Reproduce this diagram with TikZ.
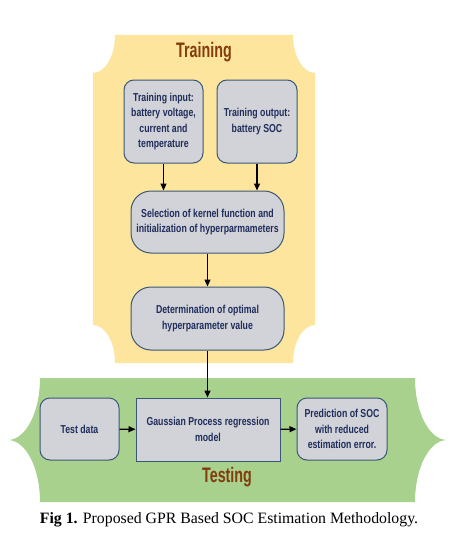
\documentclass[tikz,border=0pt]{standalone}
\usepackage{fontspec}
\setmainfont{Liberation Serif}
\newfontfamily\boxfont[FakeStretch=0.76]{Liberation Sans}
\newfontfamily\titlefont[FakeStretch=0.68]{Liberation Sans}
\usetikzlibrary{arrows.meta, positioning}
\definecolor{trainyellow}{HTML}{FDE59D}
\definecolor{testgreen}{HTML}{A9D18E}
\definecolor{boxgray}{HTML}{D2D3D8}
\definecolor{boxline}{HTML}{3A5774}
\definecolor{boxtext}{HTML}{1F2D5C}
\definecolor{titlebrown}{HTML}{843C0C}
\tikzset{
  stepnode/.style={draw=boxline, line width=1pt, fill=boxgray, text=boxtext,
    font={\boxfont\bfseries\fontsize{11.5}{15.5}\selectfont}, align=center, inner sep=2pt},
  roundnode/.style={stepnode, rounded corners=10pt},
  pillnode/.style={stepnode, rounded corners=20pt},
  phasetitle/.style={text=titlebrown, font={\titlefont\bfseries\fontsize{21}{24}\selectfont}},
  flow/.style={-{Triangle[length=7pt,width=6pt]}, line width=1.2pt, black}
}

\begin{document}
\begin{tikzpicture}[x=1pt,y=-1pt]
  \useasboundingbox (0,0) rectangle (458,543);
  \def \rxa{22}
  \def \rya{38}
  \def \rxb{32}
  \def \ryb{62}

  % training panel
  \fill[trainyellow] (115,35) -- (293,35)
    arc[start angle=180, end angle=90, x radius=\rxa, y radius=\rya] -- (315,325)
    arc[start angle=270, end angle=180, x radius=\rxa, y radius=\rya] -- (115,363)
    arc[start angle=0, end angle=-90, x radius=\rxa, y radius=\rya] -- (93,73)
    arc[start angle=90, end angle=0, x radius=\rxa, y radius=\rya] -- cycle;

  % testing panel
  \fill[testgreen] (40,378) -- (415,378)
    arc[start angle=180, end angle=90, x radius=\rxb, y radius=\ryb]
    arc[start angle=270, end angle=180, x radius=\rxb, y radius=\ryb] -- (40,502)
    arc[start angle=0, end angle=-90, x radius=\rxb, y radius=\ryb]
    arc[start angle=90, end angle=0, x radius=\rxb, y radius=\ryb] -- cycle;

  \node[phasetitle] (train) at (204,52) {Training};
  \node[phasetitle] (test) at (227,477) {Testing};

  \node[roundnode, minimum width=79pt, minimum height=83pt] (tin) at (163.5,121.5)
    {Training input:\\battery voltage,\\current and\\temperature};
  \node[roundnode, minimum width=80pt, minimum height=83pt] (tout) at (257,121.5)
    {Training output:\\battery SOC};
  \node[pillnode, minimum width=153pt, minimum height=62pt] (kernel) at (207.5,222)
    {Selection of kernel function and\\initialization of hyperparmameters};
  \node[pillnode, minimum width=153pt, minimum height=63pt] (optim) at (207.5,318.5)
    {Determination of optimal\\hyperparameter value};

  \node[roundnode, minimum width=79pt, minimum height=62pt] (tdata) at (79.5,429) {Test data};
  \node[stepnode, minimum width=144pt, minimum height=63pt] (gpr) at (208,429.5)
    {Gaussian Process regression\\model};
  \node[roundnode, minimum width=90pt, minimum height=62pt] (pred) at (342,429)
    {Prediction of SOC\\with reduced\\estimation error.};

  \draw[flow] (tin.south) -- (tin.south |- kernel.north);
  \draw[flow] (tout.south) -- (tout.south |- kernel.north);
  \draw[flow] (kernel) -- (optim);
  \draw[flow] (optim.south) -- (optim.south |- gpr.north);
  \draw[flow] (tdata) -- (gpr);
  \draw[flow] (gpr) -- (pred);

  \node[font=\fontsize{15.8}{18}\selectfont] (caption) at (229,520)
    {\textbf{Fig 1.} Proposed GPR Based SOC Estimation Methodology.};
\end{tikzpicture}
\end{document}
